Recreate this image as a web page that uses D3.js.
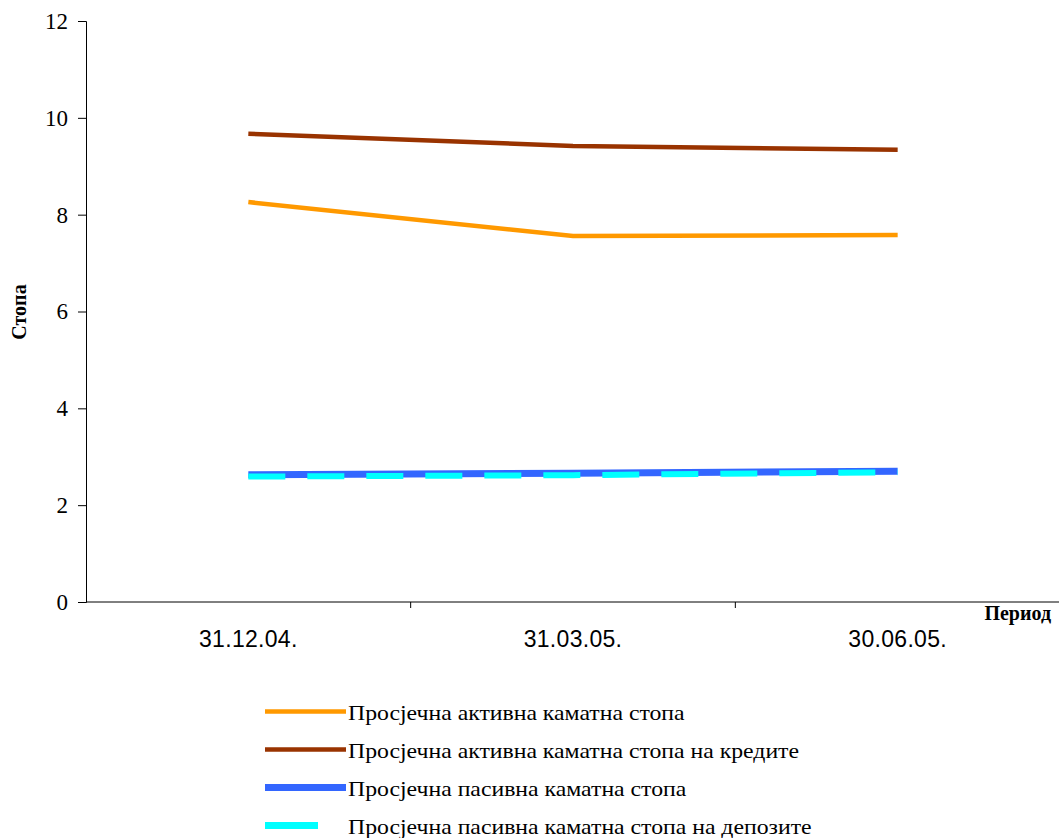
<!DOCTYPE html>
<html>
<head>
<meta charset="utf-8">
<script src="https://cdn.jsdelivr.net/npm/d3@7"></script>
<style>
  html, body { margin: 0; padding: 0; background: #fff; }
  svg { display: block; }
  .serif { font-family: "Liberation Serif", "Times New Roman", "DejaVu Serif", serif; }
  .sans { font-family: "Liberation Sans", Arial, sans-serif; }
</style>
</head>
<body>
<svg id="chart" width="1059" height="838"></svg>
<script>
// Periods on the x axis
const periods = ["31.12.04.", "31.03.05.", "30.06.05."];

// Interest rates (%) per period
const activeRate   = [8.26, 7.56, 7.58];
const activeLoans  = [9.67, 9.42, 9.34];
const passiveRate  = [2.63, 2.66, 2.70];
const passiveDep   = [2.59, 2.62, 2.68];

const seriesNames = [
  "Просјечна активна каматна стопа",
  "Просјечна активна каматна стопа на кредите",
  "Просјечна пасивна каматна стопа",
  "Просјечна пасивна каматна стопа на депозите"
];

const yTicks = [0, 2, 4, 6, 8, 10, 12];

const series = [
  { name: seriesNames[0], values: activeRate,  color: "#FF9900", width: 4.5, dash: null },
  { name: seriesNames[1], values: activeLoans, color: "#993300", width: 4.5, dash: null },
  { name: seriesNames[2], values: passiveRate, color: "#3366FF", width: 7,   dash: null },
  { name: seriesNames[3], values: passiveDep,  color: "#00FFFF", width: 6,   dash: "37,22" }
];

const svg = d3.select("#chart");
const plotLeft = 86, plotRight = 1060, plotTop = 21, plotBottom = 602;

const x = d3.scaleBand().domain(periods).range([plotLeft, plotRight]);
const y = d3.scaleLinear().domain([0, 12]).range([plotBottom, plotTop]);

// Y axis
const yAxis = d3.axisLeft(y).tickValues(yTicks).tickSize(8).tickPadding(10).tickFormat(d3.format("d"));
const gy = svg.append("g").attr("transform", `translate(${plotLeft},0)`).call(yAxis);
gy.attr("font-family", null).attr("font-size", null);
gy.select(".domain").attr("stroke", "#000").attr("stroke-width", 1);
gy.selectAll(".tick line").attr("stroke", "#000");
gy.selectAll(".tick text")
  .style("font-family", "'Liberation Serif', 'Times New Roman', serif")
  .style("font-size", "23px")
  .attr("fill", "#000");

// X axis: tick marks at band boundaries
const gx = svg.append("g").attr("transform", `translate(0,${plotBottom})`);
gx.append("line").attr("x1", plotLeft).attr("x2", plotRight).attr("stroke", "#000").attr("stroke-width", 1);
const boundaries = periods.slice(1).map(p => x(p));
gx.selectAll("line.tick").data(boundaries).enter().append("line")
  .attr("class", "tick")
  .attr("x1", d => d).attr("x2", d => d).attr("y1", 0).attr("y2", 6)
  .attr("stroke", "#000");
gx.selectAll("text.lab").data(periods).enter().append("text")
  .attr("class", "lab sans")
  .attr("x", d => x(d) + x.bandwidth() / 2)
  .attr("y", 45)
  .attr("text-anchor", "middle")
  .attr("font-size", 23)
  .attr("letter-spacing", 0.3)
  .attr("fill", "#000")
  .text(d => d);

// Axis titles
svg.append("text")
  .attr("class", "serif")
  .attr("x", 1051).attr("y", 620)
  .attr("text-anchor", "end")
  .attr("font-weight", "bold").attr("font-size", 20)
  .text("Период");
svg.append("text")
  .attr("class", "serif")
  .attr("transform", "translate(26,312) rotate(-90)")
  .attr("text-anchor", "middle")
  .attr("font-weight", "bold").attr("font-size", 20)
  .text("Стопа");

// Lines
const line = d3.line()
  .x((d, i) => x(periods[i]) + x.bandwidth() / 2)
  .y(d => y(d));

svg.append("g").selectAll("path").data(series).enter().append("path")
  .attr("d", d => line(d.values))
  .attr("fill", "none")
  .attr("stroke", d => d.color)
  .attr("stroke-width", d => d.width)
  .attr("stroke-dasharray", d => d.dash);

// Legend
const legendY = [712, 750, 788, 826];
const lg = svg.append("g").selectAll("g").data(series).enter().append("g")
  .attr("transform", (d, i) => `translate(0,${legendY[i]})`);
lg.append("line")
  .attr("x1", 265).attr("x2", (d, i) => i === 3 ? 318 : 346)
  .attr("y1", -0.5).attr("y2", -0.5)
  .attr("stroke", d => d.color)
  .attr("stroke-width", (d, i) => i >= 2 ? 7 : 4.5);
lg.append("text")
  .attr("class", "serif")
  .attr("transform", "translate(348,8) scale(1.08,1)")
  .attr("font-size", 22)
  .attr("fill", "#000")
  .text(d => d.name);
</script>
</body>
</html>
